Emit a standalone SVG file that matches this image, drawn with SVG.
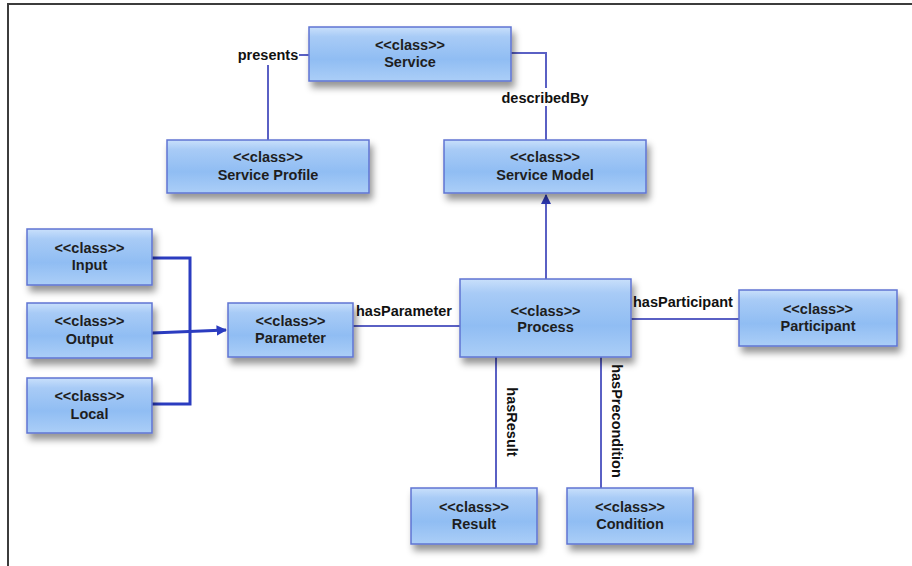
<svg xmlns="http://www.w3.org/2000/svg" width="912" height="566" viewBox="0 0 912 566">
  <defs>
    <linearGradient id="boxFill" x1="0" y1="0" x2="0" y2="1">
      <stop offset="0" stop-color="#c9e0fb"/>
      <stop offset="0.18" stop-color="#a8cbf6"/>
      <stop offset="0.6" stop-color="#90bdf3"/>
      <stop offset="1" stop-color="#abcef7"/>
    </linearGradient>
    <filter id="shadow" x="-10%" y="-20%" width="130%" height="170%">
      <feDropShadow dx="3" dy="6" stdDeviation="3.5" flood-color="#000" flood-opacity="0.42"/>
    </filter>
    <marker id="arrow" viewBox="0 0 10 10" refX="9" refY="5" markerWidth="5" markerHeight="5" orient="auto">
      <path d="M0,0 L10,5 L0,10 Z" fill="#2e3ab8"/>
    </marker>
    <marker id="arrowSmall" viewBox="0 0 10 10" refX="9" refY="5" markerWidth="3.5" markerHeight="3.5" orient="auto">
      <path d="M0,0 L10,5 L0,10 Z" fill="#2b3cc0"/>
    </marker>
  </defs>
  <style>
    .box { fill: url(#boxFill); stroke: #5f74d2; stroke-width: 1.5; filter: url(#shadow); }
    .txt { font-family: "Liberation Sans", Arial, sans-serif; font-weight: bold; font-size: 14.5px; fill: #1e1e1e; text-anchor: middle; }
    .lbl { font-family: "Liberation Sans", Arial, sans-serif; font-weight: bold; font-size: 14.5px; fill: #111; }
    .link { fill: none; stroke: #5a60c4; stroke-width: 2; }
    .bus { fill: none; stroke: #2b3cc0; stroke-width: 3; }
  </style>

  <rect x="0" y="0" width="912" height="566" fill="#ffffff"/>

  <!-- frame -->
  <path d="M8,566 V4 H912" fill="none" stroke="#3c3c3c" stroke-width="2"/>

  <!-- connectors -->
  <g id="connectors">
    <path class="link" d="M309,55 H299"/>
    <path class="link" d="M268,65 V140"/>
    <path class="link" d="M511,53 H546 V88"/>
    <path class="link" d="M546,106 V140"/>
    <path class="link" d="M546,279 V195" marker-end="url(#arrow)"/>
    <path class="bus" d="M152,258 H190 V404 H152"/>
    <path class="bus" d="M152,333 L226,330" marker-end="url(#arrowSmall)"/>
    <path class="link" stroke="#4d58c8" d="M353,326 H460"/>
    <path class="link" stroke="#5966cc" d="M631,319 H739"/>
    <path class="link" stroke="#6a6fd0" d="M496,357 V488"/>
    <path class="link" stroke="#6a6fd0" d="M601,357 V488"/>

    <text class="lbl" x="268" y="60" text-anchor="middle">presents</text>
    <text class="lbl" x="545" y="103" text-anchor="middle">describedBy</text>
    <text class="lbl" x="356" y="316">hasParameter</text>
    <text class="lbl" x="633" y="307">hasParticipant</text>
    <text class="lbl" transform="translate(507,422) rotate(90)" text-anchor="middle">hasResult</text>
    <text class="lbl" transform="translate(612,421) rotate(90)" text-anchor="middle">hasPrecondition</text>
  </g>

  <!-- nodes -->
  <g id="service">
    <rect class="box" x="309" y="27" width="202" height="54"/>
    <text class="txt" x="410" y="50">&lt;&lt;class&gt;&gt;</text>
    <text class="txt" x="410" y="67">Service</text>
  </g>
  <g id="service-profile">
    <rect class="box" x="167" y="140" width="202" height="53"/>
    <text class="txt" x="268" y="162">&lt;&lt;class&gt;&gt;</text>
    <text class="txt" x="268" y="180">Service Profile</text>
  </g>
  <g id="service-model">
    <rect class="box" x="444" y="140" width="202" height="53"/>
    <text class="txt" x="545" y="162">&lt;&lt;class&gt;&gt;</text>
    <text class="txt" x="545" y="180">Service Model</text>
  </g>
  <g id="input">
    <rect class="box" x="27" y="229" width="125" height="56"/>
    <text class="txt" x="89.5" y="253">&lt;&lt;class&gt;&gt;</text>
    <text class="txt" x="89.5" y="270">Input</text>
  </g>
  <g id="output">
    <rect class="box" x="27" y="303" width="125" height="55"/>
    <text class="txt" x="89.5" y="326">&lt;&lt;class&gt;&gt;</text>
    <text class="txt" x="89.5" y="344">Output</text>
  </g>
  <g id="local">
    <rect class="box" x="27" y="378" width="125" height="55"/>
    <text class="txt" x="89.5" y="401">&lt;&lt;class&gt;&gt;</text>
    <text class="txt" x="89.5" y="419">Local</text>
  </g>
  <g id="parameter">
    <rect class="box" x="228" y="303" width="125" height="54"/>
    <text class="txt" x="290.5" y="326">&lt;&lt;class&gt;&gt;</text>
    <text class="txt" x="290.5" y="343">Parameter</text>
  </g>
  <g id="process">
    <rect class="box" x="460" y="279" width="171" height="78"/>
    <text class="txt" x="545.5" y="316">&lt;&lt;class&gt;&gt;</text>
    <text class="txt" x="545.5" y="332">Process</text>
  </g>
  <g id="participant">
    <rect class="box" x="739" y="290" width="158" height="56"/>
    <text class="txt" x="818" y="314">&lt;&lt;class&gt;&gt;</text>
    <text class="txt" x="818" y="331">Participant</text>
  </g>
  <g id="result">
    <rect class="box" x="411" y="488" width="126" height="56"/>
    <text class="txt" x="474" y="512">&lt;&lt;class&gt;&gt;</text>
    <text class="txt" x="474" y="529">Result</text>
  </g>
  <g id="condition">
    <rect class="box" x="567" y="488" width="126" height="56"/>
    <text class="txt" x="630" y="512">&lt;&lt;class&gt;&gt;</text>
    <text class="txt" x="630" y="529">Condition</text>
  </g>
</svg>
